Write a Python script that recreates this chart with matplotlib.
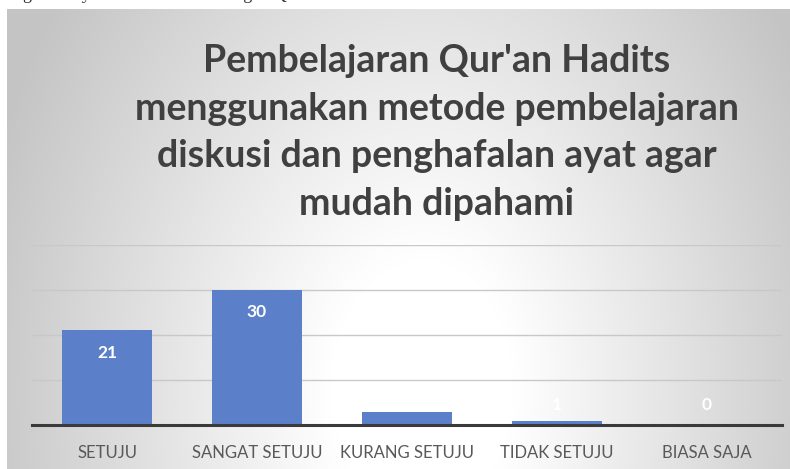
import numpy as np
import matplotlib
matplotlib.use("Agg")
import matplotlib.pyplot as plt

categories = ["SETUJU", "SANGAT SETUJU", "KURANG SETUJU", "TIDAK SETUJU", "BIASA SAJA"]
values = [21, 30, 3, 1, 0]
title_lines = ["Pembelajaran Qur'an Hadits",
               "menggunakan metode pembelajaran",
               "diskusi dan penghafalan ayat agar",
               "mudah dipahami"]
page_text = "bagai dari yaitu semua siswa dengan Qur'an Hadits"

W, H = 790, 469
fig = plt.figure(figsize=(W / 100, H / 100), dpi=100)
fig.patch.set_facecolor("white")

# radial gradient background of the chart area (white spot low in the middle)
bg = fig.add_axes([7 / W, 0, (W - 7) / W, (H - 9) / H])
yy, xx = np.mgrid[0:460, 0:783]
cx, cy = 418, 380
rx = np.where(xx < cx, 470, 440)
t = np.sqrt(((xx - cx) / rx) ** 2 + ((yy - cy) / 650) ** 2)
grey = 1.0 - 0.22 * np.clip(t - 0.2, 0, None) / 0.75
grey = np.clip(grey, 0.77, 1.0)
bg.imshow(np.dstack([grey, grey, grey]), aspect="auto", interpolation="bilinear")
bg.axis("off")

# plot area
ax = fig.add_axes([32 / W, 44 / H, 750 / W, 180 / H])
ax.set_facecolor("none")
x = np.arange(len(categories))
ax.bar(x, values, width=0.6, color="#5b80c9", zorder=3)
ax.set_xlim(-0.5, len(categories) - 0.5)
ax.set_ylim(0, 40)
ax.set_yticks([10, 20, 30, 40])
ax.yaxis.grid(True, color="#c8c8c8", linewidth=1)
ax.set_axisbelow(True)
ax.tick_params(axis="y", left=False, labelleft=False)
ax.tick_params(axis="x", bottom=False, pad=11)
ax.set_xticks(x)
ax.set_xticklabels(categories, fontsize=12, color="#595959", family="Lato")
for s in ["top", "right", "left"]:
    ax.spines[s].set_visible(False)
ax.spines["bottom"].set_color("#3a3a3a")
ax.spines["bottom"].set_linewidth(2.2)
ax.spines["bottom"].set_zorder(4)

for xi, v in zip(x, values):
    yl = max(v - 4.9, 4.4)
    ax.text(xi, yl, str(v), ha="center", va="center", color="white",
            fontsize=12.5, fontweight="bold", family="Lato", zorder=5)

# title
for i, line in enumerate(title_lines):
    fig.text(437 / W, 1 - (72 + i * 47.7) / H, line, ha="center", va="baseline",
             fontsize=27, fontweight="bold", color="#404040", family="Lato")

# cut-off line of text from the page above the chart
fig.text(6 / W, 1 + 1 / H, page_text, ha="left", va="baseline",
         fontsize=13, color="#333333", family="Liberation Serif")

fig.savefig("out.png", dpi=100)
